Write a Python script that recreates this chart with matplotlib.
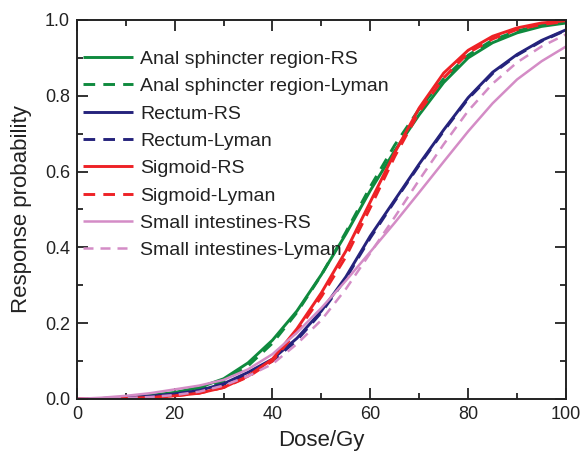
import matplotlib
matplotlib.use("Agg")
import matplotlib.pyplot as plt
from matplotlib.ticker import MultipleLocator, FormatStrFormatter

plt.rcParams['font.family'] = ['Liberation Sans', 'DejaVu Sans']

dose = [0, 5, 10, 15, 20, 25, 30, 35, 40, 45, 50, 55, 60, 65, 70, 75, 80, 85, 90, 95, 100]

anal_rs = [0, 0.001, 0.004, 0.009, 0.017, 0.030, 0.053, 0.095, 0.155, 0.232, 0.328, 0.435, 0.550, 0.655, 0.750, 0.835, 0.900, 0.940, 0.966, 0.983, 0.992]
anal_ly = [0, 0.0005, 0.002, 0.006, 0.013, 0.025, 0.047, 0.087, 0.147, 0.228, 0.327, 0.440, 0.560, 0.670, 0.765, 0.845, 0.907, 0.947, 0.971, 0.986, 0.994]
rect_rs = [0, 0.001, 0.003, 0.007, 0.013, 0.022, 0.040, 0.070, 0.105, 0.160, 0.232, 0.322, 0.430, 0.525, 0.620, 0.710, 0.795, 0.862, 0.909, 0.946, 0.974]
rect_ly = [0, 0.0005, 0.002, 0.006, 0.012, 0.021, 0.038, 0.066, 0.100, 0.155, 0.228, 0.318, 0.425, 0.522, 0.617, 0.707, 0.792, 0.859, 0.907, 0.944, 0.973]
sigm_rs = [0, 0.0, 0.001, 0.003, 0.008, 0.015, 0.030, 0.060, 0.105, 0.185, 0.280, 0.390, 0.520, 0.650, 0.768, 0.860, 0.920, 0.957, 0.979, 0.992, 0.998]
sigm_ly = [0, 0.0, 0.001, 0.003, 0.008, 0.015, 0.030, 0.058, 0.100, 0.178, 0.270, 0.375, 0.505, 0.640, 0.758, 0.847, 0.913, 0.950, 0.975, 0.988, 0.996]
small_rs = [0, 0.003, 0.008, 0.015, 0.025, 0.035, 0.050, 0.078, 0.118, 0.175, 0.240, 0.312, 0.388, 0.465, 0.545, 0.626, 0.706, 0.780, 0.843, 0.891, 0.930]
small_ly = [0, 0.0005, 0.002, 0.005, 0.010, 0.019, 0.035, 0.060, 0.092, 0.145, 0.208, 0.290, 0.385, 0.480, 0.578, 0.672, 0.760, 0.832, 0.888, 0.930, 0.962]

labels = ["Anal sphincter region-RS", "Anal sphincter region-Lyman",
          "Rectum-RS", "Rectum-Lyman",
          "Sigmoid-RS", "Sigmoid-Lyman",
          "Small intestines-RS", "Small intestines-Lyman"]

green = "#0f8a3e"
navy = "#25237c"
red = "#ee2226"
pink = "#d48cc6"

fig = plt.figure(figsize=(5.82, 4.59), dpi=100)
ax = fig.add_axes([0.132, 0.131, 0.8405, 0.8255])

series = [
    (anal_rs, green, '-', 2.1),
    (anal_ly, green, '--', 2.1),
    (rect_rs, navy, '-', 2.1),
    (rect_ly, navy, '--', 2.1),
    (sigm_rs, red, '-', 2.1),
    (sigm_ly, red, '--', 2.1),
    (small_rs, pink, '-', 1.8),
    (small_ly, pink, '--', 1.8),
]
for (vals, c, ls, lw), lab in zip(series, labels):
    kw = dict(color=c, lw=lw, label=lab, solid_capstyle='butt', solid_joinstyle='round')
    if ls == '--':
        kw['dashes'] = (4.0, 2.8)
    ax.plot(dose, vals, **kw)

ax.set_xlim(0, 100)
ax.set_ylim(0, 1.0)
ax.xaxis.set_major_locator(MultipleLocator(20))
ax.xaxis.set_minor_locator(MultipleLocator(10))
ax.yaxis.set_major_locator(MultipleLocator(0.2))
ax.yaxis.set_minor_locator(MultipleLocator(0.1))
ax.yaxis.set_major_formatter(FormatStrFormatter('%.1f'))
ax.tick_params(which='both', direction='in', top=True, right=True, labelsize=13, width=1.3, colors='#222222')
ax.tick_params(which='major', length=8)
ax.tick_params(which='minor', length=4)
ax.tick_params(axis='x', pad=5)
ax.tick_params(axis='y', pad=5)
for s in ax.spines.values():
    s.set_linewidth(1.4)
    s.set_color('#222222')

ax.set_xlabel("Dose/Gy", fontsize=16, color='#222222', labelpad=5)
ax.set_ylabel("Response probability", fontsize=16, color='#222222', labelpad=9)

leg = ax.legend(loc='upper left', frameon=False, fontsize=14, handlelength=2.6,
                handletextpad=0.35, labelspacing=0.5, borderaxespad=0.0,
                borderpad=0.0, bbox_to_anchor=(0.012, 0.92))
for t in leg.get_texts():
    t.set_color('#222222')

fig.savefig("out.png", dpi=100)
